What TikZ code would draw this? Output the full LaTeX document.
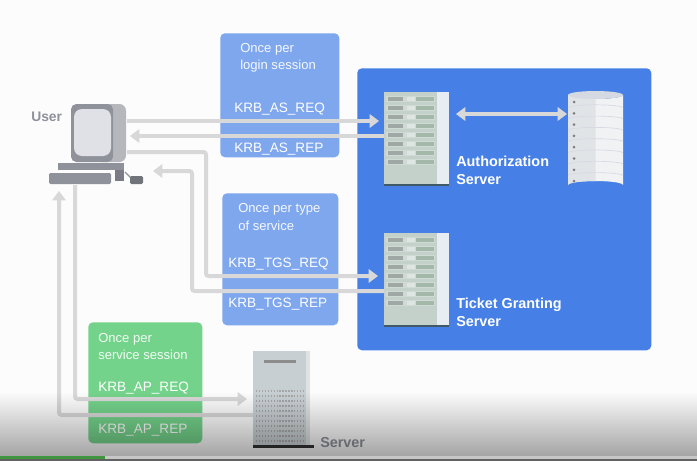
\documentclass[tikz,border=0pt]{standalone}
\usepackage{fontspec}
\setmainfont{Liberation Sans}
\usetikzlibrary{arrows.meta}
\usetikzlibrary{fadings}
\usetikzlibrary{calc}

\definecolor{panelblue}{HTML}{7FA7EE}
\definecolor{panelgreen}{HTML}{74D38B}
\definecolor{authblue}{HTML}{4680E6}
\definecolor{wire}{HTML}{D8D8D8}
\definecolor{usergrey}{HTML}{8F919B}
\definecolor{userside}{HTML}{B6B7BC}
\definecolor{userscreen}{HTML}{DFE1E6}
\definecolor{rackbody}{HTML}{C4D1CB}
\definecolor{rackside}{HTML}{E8ECF3}
\definecolor{rackbase}{HTML}{3F5A66}
\definecolor{rackrow}{HTML}{D0DAD5}
\definecolor{rackleft}{HTML}{9FA8A4}
\definecolor{rackmid}{HTML}{DFE5E2}
\definecolor{rackright}{HTML}{A3B8A8}
\definecolor{dbleft}{HTML}{E1E4E7}
\definecolor{dbright}{HTML}{F0F2F4}
\definecolor{dbtop}{HTML}{D5DAE2}
\definecolor{towerbody}{HTML}{C8CFD2}
\definecolor{towerside}{HTML}{DDE2E3}

\tikzfading[name=stripfade, top color=transparent!100, bottom color=transparent!0]

\def\px{0.75pt}
\tikzset{
    >={Triangle[length=7pt,width=10pt]},
    wireline/.style={draw=wire, line width=3pt, rounded corners=2pt},
    panel/.style={rounded corners=3.5pt, anchor=north west, inner sep=0pt},
    small/.style={anchor=base west, inner sep=0pt, text=white!92!panelblue, font=\fontsize{9.8}{12}\selectfont},
    msg/.style={anchor=base west, inner sep=0pt, text=white, font=\fontsize{10.2}{12}\selectfont},
    title/.style={anchor=base west, inner sep=0pt, text=white, font=\fontsize{10.8}{12}\selectfont\bfseries},
}

% one rack: name, left edge, top edge
\newcommand{\rackserver}[3]{
    \node (#1) [anchor=north west, inner sep=0pt, minimum width=65*\px, minimum height=94*\px] at (#2,#3) {};
    \fill[rackside] (#2+53,#3) rectangle (#2+65,#3+92);
    \fill[rackbody] (#2,#3) rectangle (#2+53,#3+92);
    \fill[rackbase] (#2,#3+91.5) rectangle (#2+65,#3+94);
    \foreach \row in {0,...,7}{
        \fill[rackrow] (#2+2,#3+3.5+\row*9.05) rectangle (#2+51,#3+10+\row*9.05);
        \fill[rackleft] (#2+4,#3+4.5+\row*9.05) rectangle (#2+19,#3+9+\row*9.05);
        \fill[rackmid] (#2+23,#3+4.5+\row*9.05) rectangle (#2+31,#3+9+\row*9.05);
        \fill[rackright] (#2+32,#3+4.5+\row*9.05) rectangle (#2+50,#3+9+\row*9.05);
    }
}

\begin{document}
\begin{tikzpicture}[x=\px,y=-\px]
    \useasboundingbox (0,0) rectangle (697,461);
    \fill[white!99!black] (0,0) rectangle (697,461);

    % message panels
    \node (askbox) [panel, fill=panelblue, minimum width=119*\px, minimum height=124*\px] at (220,33) {};
    \node (tgsbox) [panel, fill=panelblue, minimum width=116*\px, minimum height=132*\px] at (222,193) {};
    \node (apbox) [panel, fill=panelgreen, minimum width=114*\px, minimum height=121*\px] at (88,322) {};
    \node (authbox) [panel, fill=authblue, minimum width=294*\px, minimum height=282*\px] at (357,68) {};

    % servers
    \rackserver{assrv}{384}{92}
    \rackserver{tgssrv}{384}{233}

    % database
    \node (db) [anchor=north west, inner sep=0pt, minimum width=56*\px, minimum height=100*\px] at (568,90) {};
    \fill[dbright] (568,95) -- (568,185) arc[start angle=180, end angle=360, x radius=27.5, y radius=4] -- (623,95) arc[start angle=0, end angle=180, x radius=27.5, y radius=4] -- cycle;
    \fill[dbleft] (568,95) -- (568,185) arc[start angle=180, end angle=270, x radius=27.5, y radius=4] -- (595.5,95) -- cycle;
    \fill[dbtop] (595.5,95) ellipse[x radius=27.5, y radius=4];
    \foreach \shelf in {0,...,7}{
        \fill[gray] (574,102+\shelf*11.3) circle (1.5);
        \ifnum\shelf>0
            \draw[dbtop, line width=0.5pt] (568,96.5+\shelf*11.3) arc[start angle=180, end angle=360, x radius=27.5, y radius=3];
        \fi
    }

    % tower
    \node (tower) [anchor=north west, inner sep=0pt, minimum width=58*\px, minimum height=96*\px] at (253,351) {};
    \fill[towerbody] (253,351) rectangle (306,446);
    \fill[towerside] (306,351) rectangle (310,446);
    \fill[black!45] (264,360) rectangle (296,363);
    \foreach \dy in {0,...,10}{
        \draw[black!35, line width=0.9pt, dash pattern=on 1pt off 1.2pt] (256,391+\dy*5) -- (304,391+\dy*5);
    }
    \fill[black!80] (253,445) rectangle (314,447.5);

    % user terminal
    \node (monitor) [anchor=north west, inner sep=0pt, minimum width=55*\px, minimum height=58*\px] at (71,104) {};
    \fill[userside, rounded corners=5pt] (95,104) rectangle (126,162);
    \fill[usergrey, rounded corners=4pt] (71,104) rectangle (113,162);
    \fill[userscreen, rounded corners=6pt] (74,109) rectangle (111,156);
    \fill[usergrey] (58,163) rectangle (124,170);
    \fill[usergrey!85!black] (115,170) rectangle (124,181);
    \fill[usergrey, rounded corners=1pt] (49,173) rectangle (111,184);
    \draw[white, line width=0.6pt, dash pattern=on 1.5pt off 1pt] (56,172) -- (108,172);
    \draw[usergrey, line width=1pt] (125,172) -- (132,179);
    \fill[usergrey!80!black, rounded corners=1pt] (130,176) rectangle (143,184);

    % named ends of the wires
    \coordinate (asreqA) at (127,121);
    \coordinate (asreqB) at (379,121);
    \coordinate (asrepA) at (384,136);
    \coordinate (asrepB) at (130,136);
    \coordinate (tgsreqA) at (127,152);
    \coordinate (tgsreqB) at (206,276);
    \coordinate (tgsreqC) at (378,276);
    \coordinate (tgsrepA) at (384,291);
    \coordinate (tgsrepB) at (192,291);
    \coordinate (tgsrepC) at (153,171);
    \coordinate (apreqA) at (75,185);
    \coordinate (apreqB) at (75,399);
    \coordinate (apreqC) at (247,399);
    \coordinate (aprepA) at (253,415);
    \coordinate (aprepB) at (59,415);
    \coordinate (aprepC) at (59,191);
    \coordinate (dbA) at (456,114);
    \coordinate (dbB) at (567,114);

    \draw[wireline, ->] (asreqA) -- (asreqB);
    \draw[wireline, ->] (asrepA) -- (asrepB);
    \draw[wireline, ->] (tgsreqA) -| (tgsreqB) -- (tgsreqC);
    \draw[wireline, ->] (tgsrepA) -- (tgsrepB) |- (tgsrepC);
    \draw[wireline, ->] (apreqA) -- (apreqB) -- (apreqC);
    \draw[wireline, ->] (aprepA) -- (aprepB) -- (aprepC);
    \draw[wireline, <->] (dbA) -- (dbB);

    % Labels
    \node (userlab) [title, text=usergrey, font=\fontsize{10.4}{12}\selectfont\bfseries] at (31,121) {User};
    \node (asonce) [small] at (240,52) {Once per};
    \node (aslogin) [small] at (240,69) {login session};
    \node (asreq) [msg] at (234,112) {KRB\_AS\_REQ};
    \node (asrep) [msg] at (234,152) {KRB\_AS\_REP};
    \node (tgsonce) [small] at (238,212) {Once per type};
    \node (tgssvc) [small] at (238,230) {of service};
    \node (tgsreq) [msg] at (228,267) {KRB\_TGS\_REQ};
    \node (tgsrep) [msg] at (228,307) {KRB\_TGS\_REP};
    \node (aponce) [small, text=white!90!panelgreen] at (98,342) {Once per};
    \node (apsess) [small, text=white!90!panelgreen] at (98,359) {service session};
    \node (apreq) [msg] at (98,391) {KRB\_AP\_REQ};
    \node (aprep) [msg] at (98,433) {KRB\_AP\_REP};
    \node (authlabA) [title] at (456,166) {Authorization};
    \node (authlabB) [title] at (456,184) {Server};
    \node (ticketlabA) [title] at (456,308) {Ticket Granting};
    \node (ticketlabB) [title] at (456,326) {Server};
    \node (serverlab) [title, text=usergrey] at (320,447) {Server};

    % player strip
    \fill[black, opacity=0.42, path fading=stripfade] (0,392) rectangle (697,470);
    \fill[black!62] (0,456) rectangle (697,461);
    \fill[black!22] (105,456) rectangle (697,459);
    \fill[green!45!black!75!white] (0,456) rectangle (105,459);
\end{tikzpicture}
\end{document}
